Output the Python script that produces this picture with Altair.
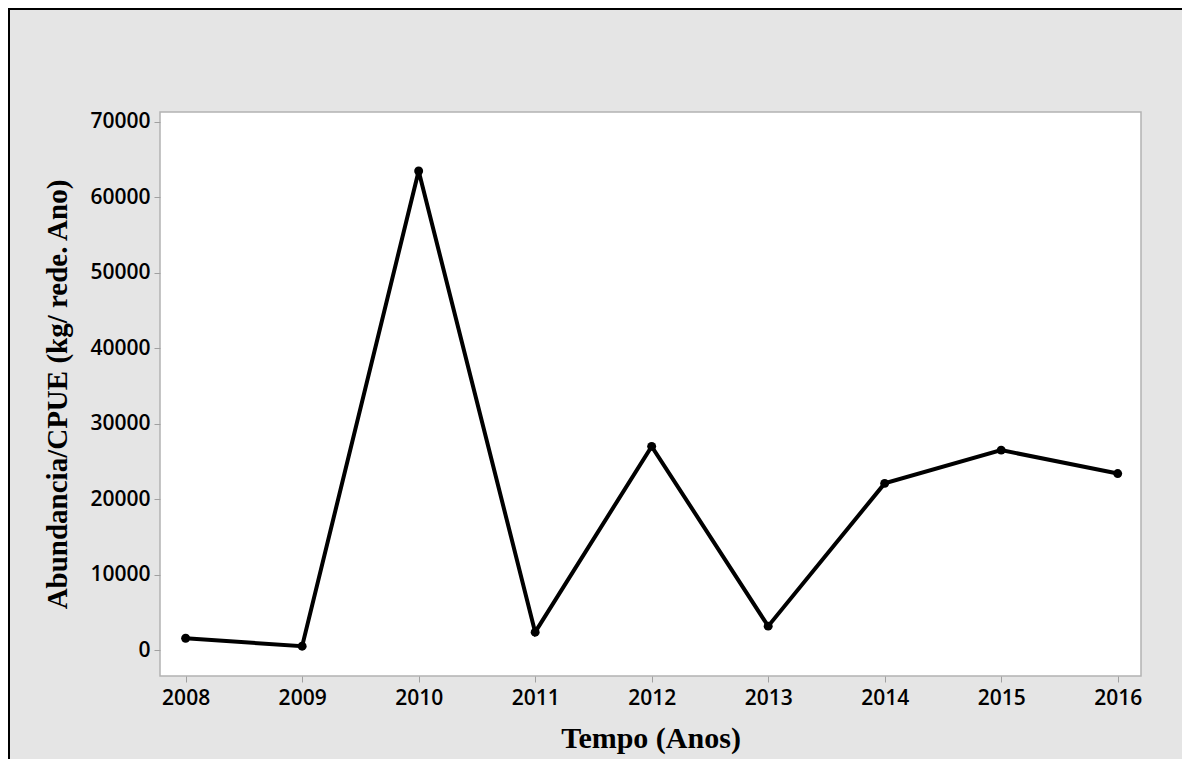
import altair as alt
import pandas as pd

# Data
years = [2008, 2009, 2010, 2011, 2012, 2013, 2014, 2015, 2016]
cpue = [1600, 550, 63450, 2400, 27000, 3200, 22100, 26500, 23400]
x_ticks = [2008, 2009, 2010, 2011, 2012, 2013, 2014, 2015, 2016]
y_ticks = [0, 10000, 20000, 30000, 40000, 50000, 60000, 70000]

df = pd.DataFrame({"ano": years, "cpue": cpue})

W, H = 981, 564
PAD = {"left": 152, "top": 104, "right": 41, "bottom": 83}

x_enc = alt.X(
    "ano:Q",
    scale=alt.Scale(domain=[2007.78, 2016.2], nice=False, zero=False),
    axis=alt.Axis(
        values=x_ticks, format="d", title="Tempo (Anos)",
        tickSize=6, labelPadding=5,
        titleX=W / 2, titleY=71, titleBaseline="alphabetic", titleAlign="center",
    ),
)
y_enc = alt.Y(
    "cpue:Q",
    scale=alt.Scale(domain=[-3400, 71260], nice=False, zero=False),
    axis=alt.Axis(
        values=y_ticks, format="d", title="Abundancia/CPUE (kg/ rede. Ano)",
        tickSize=6, labelPadding=4,
        titleX=-94, titleY=H / 2, titleAngle=270, titleBaseline="alphabetic",
        titleAlign="center",
    ),
)

line = alt.Chart(df).mark_line(color="black", strokeWidth=4).encode(x=x_enc, y=y_enc)
pts = alt.Chart(df).mark_point(filled=True, color="black", size=80, opacity=1).encode(
    x="ano:Q", y="cpue:Q"
)

frame_src = alt.Data(values=[{"k": 1}])
left_border = alt.Chart(frame_src).mark_rule(color="black", strokeWidth=2).encode(
    x=alt.value(-151), y=alt.value(-PAD["top"]), y2=alt.value(H + PAD["bottom"])
)
top_border = alt.Chart(frame_src).mark_rule(color="black", strokeWidth=2).encode(
    x=alt.value(-PAD["left"]), x2=alt.value(W + PAD["right"]), y=alt.value(-103)
)

chart = (
    alt.layer(line, pts, left_border, top_border)
    .properties(
        width=W, height=H, padding=PAD,
        autosize=alt.AutoSizeParams(type="none"),
        background="#e5e5e5",
    )
    .configure_view(stroke="#b3b3b3", strokeWidth=1.5, fill="white")
    .configure_axis(
        domain=False, grid=False,
        tickColor="#a0a0a0", tickWidth=1,
        labelFont="Open Sans", labelFontWeight=600, labelFontSize=21, labelColor="black",
        titleFont="Liberation Serif", titleFontWeight="bold", titleColor="black",
    )
    .configure_axisX(titleFontSize=30)
    .configure_axisY(titleFontSize=29)
)

chart.save("out.html", embed_options={"renderer": "svg", "actions": False})
